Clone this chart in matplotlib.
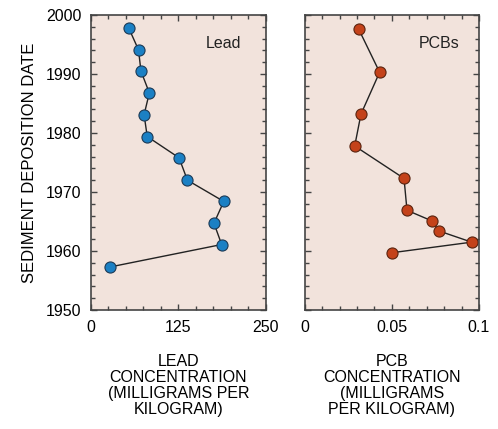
import matplotlib.pyplot as plt
from matplotlib.ticker import MultipleLocator

plt.rcParams['font.family'] = ['Liberation Sans', 'DejaVu Sans']

# valores
lead_conc = [54, 68, 71.5, 83.5, 76, 80.5, 126, 138, 190, 176, 187, 27.5]
lead_year = [1997.8, 1994.1, 1990.5, 1986.8, 1983.1, 1979.4, 1975.8, 1972.0, 1968.4, 1964.7, 1961.1, 1957.3]
pcb_conc = [0.031, 0.043, 0.0323, 0.0287, 0.057, 0.0587, 0.073, 0.077, 0.0958, 0.0499]
pcb_year = [1997.6, 1990.3, 1983.2, 1977.8, 1972.3, 1966.9, 1965.1, 1963.4, 1961.5, 1959.7]

lead_ticks = [0, 125, 250]
lead_labels = ['0', '125', '250']
pcb_ticks = [0, 0.05, 0.1]
pcb_labels = ['0', '0.05', '0.1']

fondo = '#f2e3dc'
fs = 11.5

fig = plt.figure(figsize=(4.98, 4.29), dpi=100)
ax1 = fig.add_axes([0.1827, 0.2774, 0.3508, 0.6876])
ax2 = fig.add_axes([0.6118, 0.2774, 0.350, 0.6876])

def estilo(ax, xmax, ticks, labels, xmin):
    ax.set_facecolor(fondo)
    ax.set_ylim(1950, 2000)
    ax.set_xlim(0, xmax)
    ax.yaxis.set_major_locator(MultipleLocator(10))
    ax.yaxis.set_minor_locator(MultipleLocator(2))
    ax.set_xticks(ticks)
    ax.set_xticklabels(labels)
    ax.xaxis.set_minor_locator(MultipleLocator(xmin))
    ax.tick_params(which='both', direction='in', top=True, right=True,
                   color='#444444', width=1.0, labelsize=fs, pad=7)
    ax.tick_params(which='major', length=4.5)
    ax.tick_params(which='minor', length=3)
    for s in ax.spines.values():
        s.set_color('#444444')
        s.set_linewidth(1.2)

estilo(ax1, 250, lead_ticks, lead_labels, 25)
estilo(ax2, 0.1, pcb_ticks, pcb_labels, 0.01)

ax1.plot(lead_conc, lead_year, '-', color='#222222', lw=1.0, marker='o', ms=8,
         mfc='#1b80c4', mec='#1d3a55', mew=0.8)
ax2.plot(pcb_conc, pcb_year, '-', color='#222222', lw=1.0, marker='o', ms=8,
         mfc='#c4421a', mec='#5a2410', mew=0.8)

ax2.set_yticklabels([])

ax1.text(0.86, 0.905, 'Lead', transform=ax1.transAxes, ha='right', va='center',
         fontsize=fs, color='#222222')
ax2.text(0.887, 0.905, 'PCBs', transform=ax2.transAxes, ha='right', va='center',
         fontsize=fs, color='#222222')

ax1.set_ylabel('SEDIMENT DEPOSITION DATE', fontsize=12, labelpad=6)
ax1.set_xlabel('LEAD\nCONCENTRATION\n(MILLIGRAMS PER\nKILOGRAM)', fontsize=fs,
               linespacing=1.07, labelpad=14)
ax2.set_xlabel('PCB\nCONCENTRATION\n(MILLIGRAMS\nPER KILOGRAM)', fontsize=fs,
               linespacing=1.07, labelpad=14)

fig.savefig('out.png', dpi=100)
